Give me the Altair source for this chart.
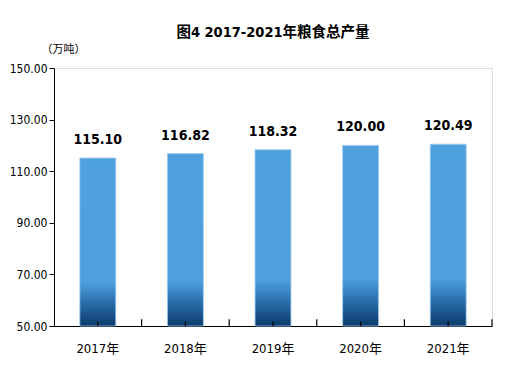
import altair as alt
import pandas as pd

years = ["2017年", "2018年", "2019年", "2020年", "2021年"]
values = [115.10, 116.82, 118.32, 120.00, 120.49]
y_ticks = [50, 70, 90, 110, 130, 150]

df = pd.DataFrame({"year": years, "value": values, "base": [50] * 5})

FONT = "DejaVu Sans Condensed, DejaVu Sans Mono, Noto Sans CJK SC"

x_enc = alt.X("year:N", sort=years,
              scale=alt.Scale(paddingInner=0, paddingOuter=0),
              axis=alt.Axis(title=None, labelAngle=0, ticks=False, domain=True,
                            domainColor="black", labelPadding=16,
                            labelFont=FONT, labelFontSize=13, labelColor="black"))
y_scale = alt.Scale(domain=[50, 150], nice=False, zero=False)

grad = alt.Gradient(
    gradient="linear", x1=0, x2=0, y1=0, y2=1,
    stops=[alt.GradientStop(offset=0, color="#4fa1de"),
           alt.GradientStop(offset=0.74, color="#4e9fdc"),
           alt.GradientStop(offset=0.86, color="#2a6fae"),
           alt.GradientStop(offset=1, color="#0b3a6a")])

bars = alt.Chart(df).mark_bar(
    width=alt.RelativeBandSize(0.41), color=grad,
    stroke="#9ccaf0", strokeWidth=0.8
).encode(
    x=x_enc,
    y=alt.Y("value:Q", scale=y_scale,
            axis=alt.Axis(values=y_ticks, format=".2f", grid=False,
                          domainColor="black", tickColor="black", tickSize=5,
                          labelFont=FONT, labelFontSize=12, labelColor="black",
                          labelPadding=2,
                          title="（万吨）", titleAngle=0, titleAlign="left",
                          titleBaseline="alphabetic", titleX=-13, titleY=-16,
                          titleFont="Noto Sans CJK SC", titleFontSize=11,
                          titleFontWeight="normal", titleColor="black")),
    y2="base:Q",
)

labels = alt.Chart(df).mark_text(
    baseline="bottom", dy=-11, font=FONT, fontSize=14, fontWeight="bold",
    color="black"
).encode(
    x=alt.X("year:N", sort=years),
    y=alt.Y("value:Q", scale=y_scale),
    text=alt.Text("value:Q", format=".2f"),
)

center_ticks = alt.Chart(df).mark_rule(color="black", strokeWidth=1.2).encode(
    x=alt.X("year:N", sort=years),
    y=alt.datum(50),
    y2=alt.datum(51.7),
)

edge_ticks = alt.Chart(df).mark_rule(color="black", strokeWidth=1.2).encode(
    x=alt.X("year:N", sort=years, bandPosition=1),
    y=alt.datum(50),
    y2=alt.datum(52.6),
)

chart = alt.layer(bars, labels, center_ticks, edge_ticks).properties(
    width=438, height=258,
    title=alt.Title("图4 2017-2021年粮食总产量", font=FONT, fontSize=14.5,
                    fontWeight="bold", color="black", anchor="middle",
                    offset=3),
    autosize=alt.AutoSizeParams(type="none"),
    padding={"left": 46, "top": 60, "right": 28, "bottom": 36},
).configure_view(fill="#f1f1f1", stroke=None).configure(background="white")

chart.save("out.html", embed_options={"renderer": "svg", "actions": False})
